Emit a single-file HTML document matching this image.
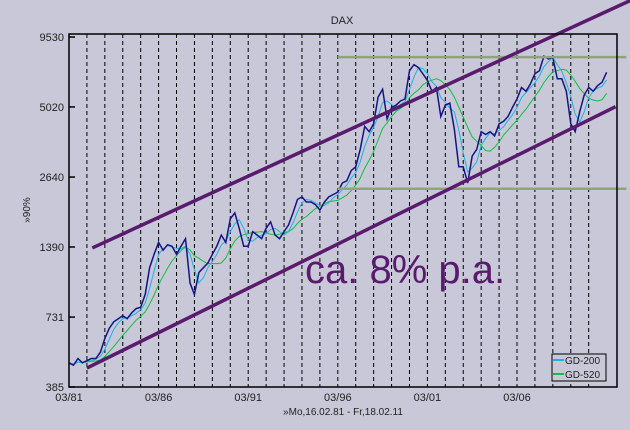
<!DOCTYPE html>
<html><head><meta charset="utf-8"><style>
html,body{margin:0;padding:0;background:#c9c8d8;}
svg{display:block;font-family:"Liberation Sans",sans-serif;}
</style></head><body>
<svg width="630" height="430" viewBox="0 0 630 430">
<rect x="0" y="0" width="630" height="430" fill="#c9c8d8"/>
<text x="342" y="24" font-size="11" text-anchor="middle" fill="#222">DAX</text>
<g id="grid"></g>
<g id="marks"></g>
<g id="annot"></g>
<rect x="69" y="34" width="548" height="353" fill="none" stroke="#000" stroke-width="1.5"/>
<g id="axes"></g>
<text x="30" y="210" font-size="10" fill="#222" text-anchor="middle" transform="rotate(-90 30 210)">»90%</text>
<text x="343" y="415" font-size="10" fill="#222" text-anchor="middle">»Mo,16.02.81 - Fr,18.02.11</text>
<text x="305" y="283" font-size="40" fill="#5a1a6e">ca. 8% p.a.</text>
<g>
<rect x="552" y="354" width="54" height="27" fill="#c9c8d8" stroke="#000" stroke-width="1"/>
<line x1="553" y1="360" x2="564" y2="360" stroke="#1ab4e0" stroke-width="2"/>
<text x="565" y="364" font-size="10" fill="#222">GD-200</text>
<line x1="553" y1="374" x2="564" y2="374" stroke="#10c040" stroke-width="2"/>
<text x="565" y="378" font-size="10" fill="#222">GD-520</text>
</g>
</svg>
<script>
const startYear = 1981;
const stepYear = 0.25;
const daxValues = [
480,470,500,480, 490,500,500,530, 600,660,700,720, 740,720,760,790,
800,900,1150,1300, 1450,1350,1420,1400, 1300,1400,1500,1000, 900,1100,1150,1200,
1300,1400,1550,1450, 1800,1900,1650,1400, 1400,1600,1550,1500, 1650,1750,1550,1500,
1600,1700,1900,2150, 2200,2100,2100,2050, 1950,2100,2200,2250, 2300,2500,2550,2800,
2900,3400,4200,4000, 4300,5500,5900,4500, 5000,5100,5300,5400, 7000,7400,7200,6800,
6400,5800,6000,4600, 5100,5200,4100,2900, 2900,2500,3200,3400, 4000,3900,4000,3850,
4300,4400,4600,5000, 5400,6000,5800,6200, 6800,7000,8000,7800, 7900,6500,6500,5800,
4300,4000,4800,5600, 6000,5800,6100,6300, 6900];
const yTicks = [385,731,1390,2640,5020,9530];
const xTickYears = [1981,1986,1991,1996,2001,2006];
const xTickLabels = ["03/81","03/86","03/91","03/96","03/01","03/06"];
const upperChannel = [[1982.3,1378],[2012.4,13400]];
const lowerChannel = [[1982.0,458],[2011.5,5030]];
const resistanceLevels = [7930,2370];
const levelStartYear = 1996.0, levelEndYear = 2012.1;

const NS="http://www.w3.org/2000/svg";
function X(t){return 69+(t-1981)*17.92;}
function Y(v){return 387-70*Math.log(v/385)/Math.log(1.9);}
function mk(tag,attrs,parent){const e=document.createElementNS(NS,tag);for(const k in attrs)e.setAttribute(k,attrs[k]);document.getElementById(parent).appendChild(e);return e;}

for(let k=1;k<=29;k++){
  const l=mk('line',{x1:X(1981+k),x2:X(1981+k),y1:34,y2:387,stroke:'#000','stroke-width':1,'stroke-dasharray':'4,3'},'grid');
  
  
}
yTicks.forEach(v=>{
  const t=mk('line',{x1:69,x2:75,y1:Y(v),y2:Y(v),stroke:'#000','stroke-width':1.5},'axes');
  
  
  const tx=mk('text',{x:64,y:Y(v)+4,'font-size':11,'text-anchor':'end',fill:'#222'},'axes');
  tx.textContent=v;
  
  
});
xTickYears.forEach((yr,i)=>{
  const tx=mk('text',{x:X(yr),y:401,'font-size':11,'text-anchor':'middle',fill:'#222'},'axes');
  tx.textContent=xTickLabels[i];
  
  
});
function ma(n){const out=[];for(let i=0;i<daxValues.length;i++){const a=Math.max(0,i-n+1);let s=0;for(let j=a;j<=i;j++)s+=daxValues[j];out.push(s/(i-a+1));}return out;}
function pathOf(arr){return arr.map((v,i)=>(i?'L':'M')+X(startYear+i*stepYear).toFixed(1)+','+Y(v).toFixed(1)).join('');}
const g520=mk('path',{d:pathOf(ma(8)),fill:'none',stroke:'#10c040','stroke-width':1},'marks');


const g200=mk('path',{d:pathOf(ma(3)),fill:'none',stroke:'#1ab4e0','stroke-width':1},'marks');


const dax=mk('path',{d:pathOf(daxValues),fill:'none',stroke:'#14148a','stroke-width':1.5},'marks');



resistanceLevels.forEach(v=>{
  const l=mk('line',{x1:X(levelStartYear),x2:X(levelEndYear),y1:Y(v),y2:Y(v),stroke:'#8ea47c','stroke-width':2.5},'annot');
  
  
});
[upperChannel,lowerChannel].forEach((c,i)=>{
  const l=mk('line',{x1:X(c[0][0]),y1:Y(c[0][1]),x2:X(c[1][0]),y2:Y(c[1][1]),stroke:'#5a1a6e','stroke-width':3.5},'annot');
  
  
});
</script>
</body></html>
